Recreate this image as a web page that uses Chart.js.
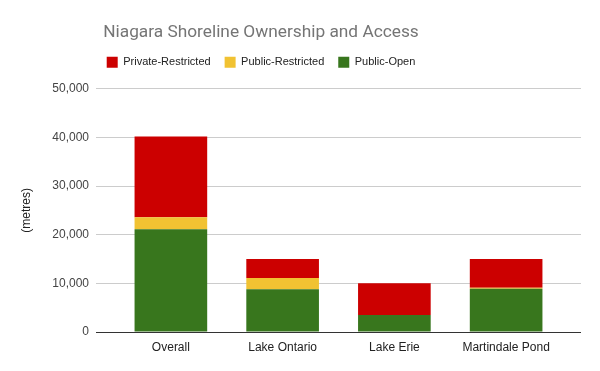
<!DOCTYPE html>
<html>
<head>
<meta charset="utf-8">
<script src="https://cdn.jsdelivr.net/npm/chart.js@4"></script>
<style>
    html, body { margin: 0; padding: 0; background: #fff; }
    #wrap { width: 600px; height: 371px; }
</style>
</head>
<body>
<div id="wrap"><canvas id="js--chart"></canvas></div>
<script>
// data (metres)
const places = ["Overall", "Lake Ontario", "Lake Erie", "Martindale Pond"];
const publicOpen = [21100, 8800, 3500, 8900];
const publicRestricted = [2500, 2300, 0, 200];
const privateRestricted = [16600, 3900, 6500, 5900];
const yTicks = [0, 10000, 20000, 30000, 40000, 50000];

Chart.defaults.font.family = "Arial, 'Liberation Sans', sans-serif";
Chart.defaults.font.size = 12;
Chart.defaults.color = "#222";

// title + legend sit a bit left of the page middle, like in the sheet
const shiftHeader = {
    id: "shiftHeader",
    afterLayout: function (chart) {
        const right = chart.width - 78;
        chart.legend.left = 0;
        chart.legend.right = right;
        chart.legend.top -= 11;
        chart.legend.bottom -= 11;
        chart.titleBlock.left = 0;
        chart.titleBlock.right = right;
        chart.titleBlock.top += 3;
        chart.titleBlock.bottom += 3;
    }
};

const gridColor = function (ctx) {
    return ctx.tick && ctx.tick.value === 0 ? "#333333" : "#cccccc";
};

new Chart(document.getElementById("js--chart"), {
    type: "bar",
    data: {
        labels: places,
        datasets: [
            { label: "Public-Open", data: publicOpen, backgroundColor: "#38761d" },
            { label: "Public-Restricted", data: publicRestricted, backgroundColor: "#f1c232" },
            { label: "Private-Restricted", data: privateRestricted, backgroundColor: "#cc0000" }
        ]
    },
    options: {
        responsive: true,
        maintainAspectRatio: false,
        animation: false,
        layout: { padding: 0 },
        datasets: {
            bar: { categoryPercentage: 1, barPercentage: 0.65, borderWidth: 0 }
        },
        plugins: {
            title: {
                display: true,
                text: "Niagara Shoreline Ownership and Access",
                color: "#757575",
                font: { family: "Roboto, Arial, sans-serif", size: 17.3, weight: "normal" },
                padding: { top: 19, bottom: 14 }
            },
            legend: {
                reverse: true,
                labels: {
                    boxWidth: 11,
                    boxHeight: 11,
                    padding: 14,
                    color: "#222",
                    font: { size: 11 }
                }
            },
            tooltip: { enabled: false }
        },
        scales: {
            x: {
                stacked: true,
                grid: { display: false, drawTicks: false },
                border: { display: false },
                ticks: { padding: 8, color: "#222" },
                afterFit: function (scale) { scale.height = 39; }
            },
            y: {
                stacked: true,
                min: 0,
                max: 50000,
                afterBuildTicks: function (scale) {
                    scale.ticks = yTicks.map(function (v) { return { value: v }; });
                },
                grid: { color: gridColor, tickLength: 19 },
                border: { display: false },
                ticks: {
                    padding: 7,
                    color: "#444",
                    callback: function (v) { return v.toLocaleString("en-US"); }
                },
                title: {
                    display: true,
                    text: "(metres)",
                    color: "#222",
                    font: { size: 12 },
                    padding: { top: 19, bottom: 0 }
                },
                afterFit: function (scale) { scale.width = 115; }
            },
            y2: {
                position: "right",
                min: 0,
                max: 50000,
                afterBuildTicks: function (scale) {
                    scale.ticks = yTicks.map(function (v) { return { value: v }; });
                },
                grid: { color: gridColor, tickLength: 19, drawOnChartArea: false },
                border: { display: false },
                ticks: { display: false },
                afterFit: function (scale) { scale.width = 38; }
            }
        }
    },
    plugins: [shiftHeader]
});
</script>
</body>
</html>
